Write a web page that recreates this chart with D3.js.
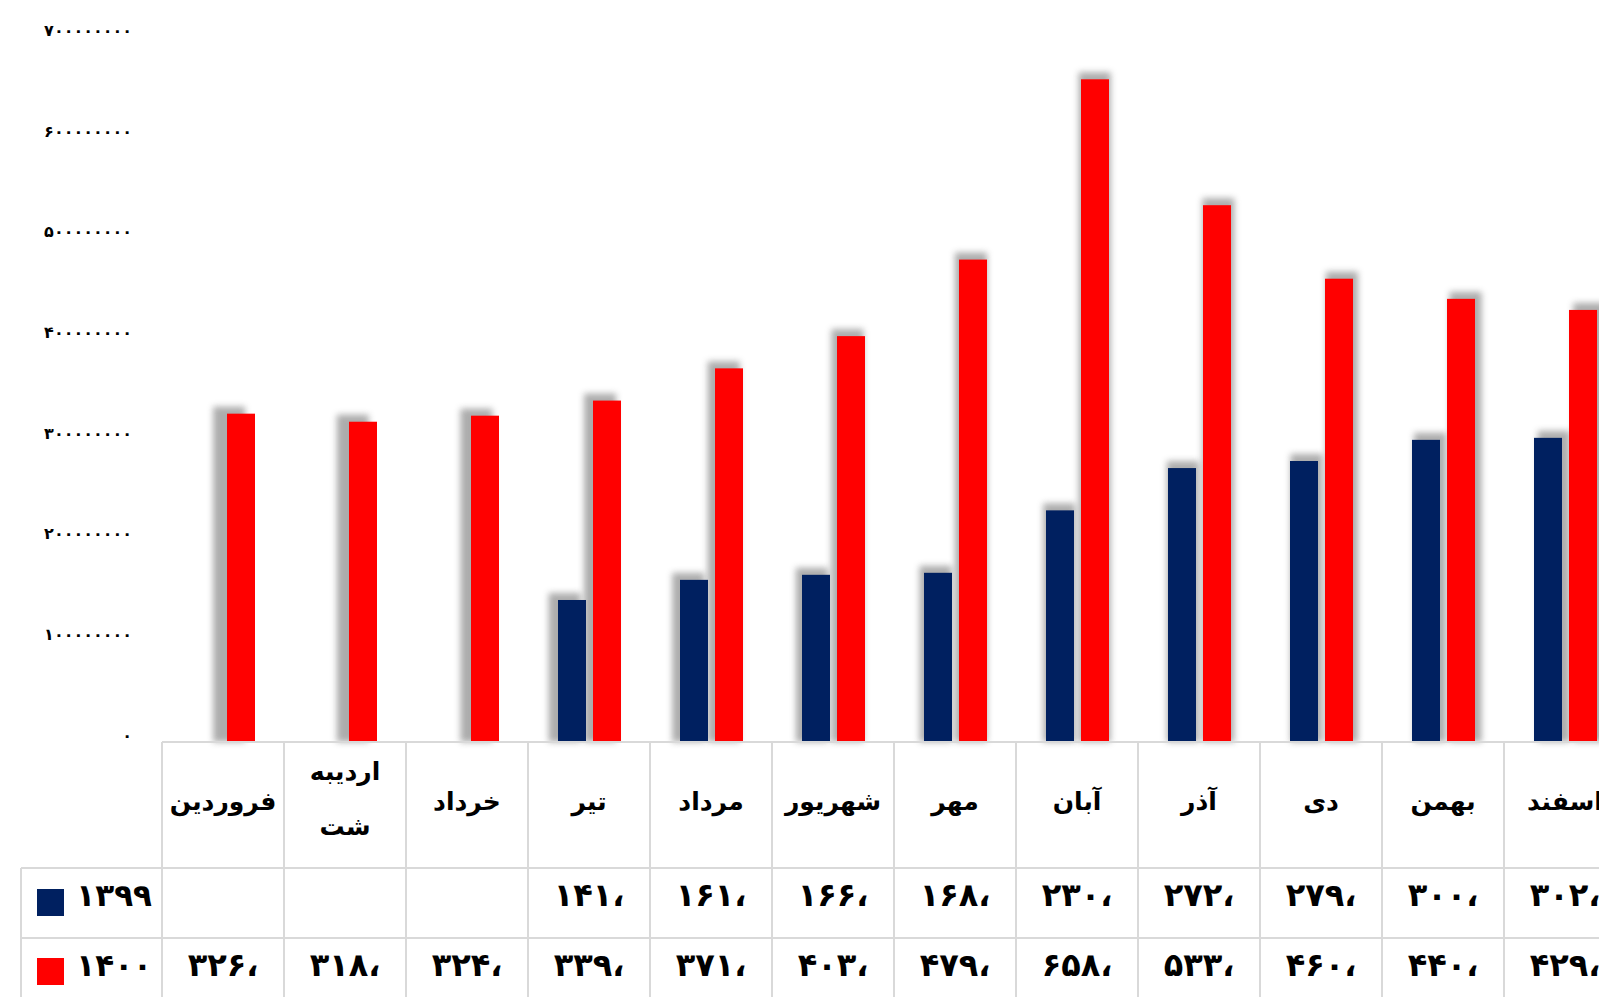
<!DOCTYPE html>
<html>
<head>
<meta charset="utf-8">
<script src="https://cdn.jsdelivr.net/npm/d3@7"></script>
<style>
  body { margin: 0; background: #fff; }
  svg { display: block; font-family: 'DejaVu Sans', sans-serif; font-weight: bold; }
</style>
</head>
<body>
<svg id="chart"></svg>
<script>
// months (Persian calendar) and the two years
const months = ['فروردین', 'اردیبهشت', 'خرداد', 'تیر', 'مرداد', 'شهریور', 'مهر', 'آبان', 'آذر', 'دی', 'بهمن', 'اسفند'];
const years = ['۱۳۹۹', '۱۴۰۰'];
const values1399 = [null, null, null, 141000000, 161000000, 166000000, 168000000, 230000000, 272000000, 279000000, 300000000, 302000000];
const values1400 = [326000000, 318000000, 324000000, 339000000, 371000000, 403000000, 479000000, 658000000, 533000000, 460000000, 440000000, 429000000];
const yTicks = [0, 100000000, 200000000, 300000000, 400000000, 500000000, 600000000, 700000000];
const colors = ['#002060', '#ff0000'];

const width = 1599, height = 997;
const left = 162, step = 122, base = 742;

const faDigits = '۰۱۲۳۴۵۶۷۸۹';
const toFa = (n) => String(n).replace(/\d/g, (d) => faDigits[d]);

const svg = d3.select('#chart').attr('width', width).attr('height', height);

const x = d3.scaleBand().domain(months).range([left, left + step * months.length]);
const xs = d3.scaleBand().domain([0, 1]).range([30, 93]).paddingInner(0.2);
const y = d3.scaleLinear().domain([0, 700000000]).range([base, 37]);

// soft shadow filter
const defs = svg.append('defs');
defs.append('filter').attr('id', 'blur')
  .attr('x', '-60%').attr('y', '-10%').attr('width', '220%').attr('height', '120%')
  .append('feGaussianBlur').attr('stdDeviation', 3);

// y axis labels only
const yAxis = svg.append('g')
  .attr('transform', `translate(132,0)`)
  .call(d3.axisLeft(y).tickValues(yTicks).tickSize(0).tickPadding(0).tickFormat(toFa));
yAxis.select('.domain').remove();
yAxis.selectAll('text')
  .attr('font-family', 'DejaVu Sans, sans-serif')
  .attr('font-weight', 'bold')
  .attr('font-size', 16)
  .attr('fill', '#000')
  .attr('dy', '-0.1em');

const series = [values1399, values1400];
const bars = [];
series.forEach((vals, s) => {
  vals.forEach((v, i) => {
    if (v == null) return;
    bars.push({ s, i, v });
  });
});

const barX = (d) => x(months[d.i]) + xs(d.s);
const bw = xs.bandwidth();
// shadow leans away from a point right of the middle
const shift = (d) => (barX(d) + bw / 2 - 1120) * 0.0135;

svg.append('g').selectAll('rect').data(bars).join('rect')
  .attr('x', (d) => barX(d) + shift(d) - 2)
  .attr('y', (d) => y(d.v) - 7)
  .attr('width', bw + 4)
  .attr('height', (d) => base - y(d.v) + 7)
  .attr('fill', '#8a8a8a')
  .attr('opacity', 0.7)
  .attr('filter', 'url(#blur)');

svg.append('g').selectAll('rect').data(bars).join('rect')
  .attr('x', barX)
  .attr('y', (d) => y(d.v))
  .attr('width', bw)
  .attr('height', (d) => base - y(d.v))
  .attr('fill', (d) => colors[d.s]);

// data table
const rowTop = [base, 868, 938];
const grid = svg.append('g').attr('stroke', '#d9d9d9').attr('stroke-width', 2);
grid.append('line').attr('x1', left).attr('x2', width + 200).attr('y1', rowTop[0]).attr('y2', rowTop[0]);
grid.append('line').attr('x1', 21).attr('x2', width + 200).attr('y1', rowTop[1]).attr('y2', rowTop[1]);
grid.append('line').attr('x1', 21).attr('x2', width + 200).attr('y1', rowTop[2]).attr('y2', rowTop[2]);
grid.append('line').attr('x1', 21).attr('x2', 21).attr('y1', rowTop[1]).attr('y2', height);
grid.selectAll('line.v').data(d3.range(months.length + 1)).join('line')
  .attr('class', 'v')
  .attr('x1', (i) => left + i * step).attr('x2', (i) => left + i * step)
  .attr('y1', rowTop[0]).attr('y2', height);

const monthLines = months.map((m) => (m === 'اردیبهشت' ? ['اردیبه', 'شت'] : [m]));
const head = svg.append('g').attr('text-anchor', 'middle').attr('font-size', 25).attr('fill', '#000');
head.selectAll('text').data(months).join('text')
  .attr('x', (m) => x(m) + step / 2)
  .attr('y', (m, i) => (monthLines[i].length > 1 ? 780 : 810))
  .each(function (m, i) {
    d3.select(this).selectAll('tspan').data(monthLines[i]).join('tspan')
      .attr('x', x(m) + step / 2)
      .attr('dy', (t, j) => (j ? 55 : 0))
      .text((t) => t);
  });

// only the leading group of each number fits in the cell
const cellText = (v) => (v == null ? '' : toFa(Math.floor(v / 1000000)) + '،');
series.forEach((vals, s) => {
  svg.append('g').attr('text-anchor', 'middle').attr('font-size', 32).attr('fill', '#000')
    .selectAll('text').data(vals).join('text')
    .attr('x', (v, i) => x(months[i]) + step / 2)
    .attr('y', s ? 976 : 906)
    .text(cellText);
});

// legend keys in first column
years.forEach((yr, s) => {
  const cy = s ? 971 : 902;
  svg.append('rect').attr('x', 37).attr('y', cy - 13).attr('width', 27).attr('height', 27).attr('fill', colors[s]);
  svg.append('text').attr('x', 152).attr('y', s ? 976 : 906).attr('text-anchor', 'end')
    .attr('font-size', 31).attr('fill', '#000').text(yr);
});
</script>
</body>
</html>
